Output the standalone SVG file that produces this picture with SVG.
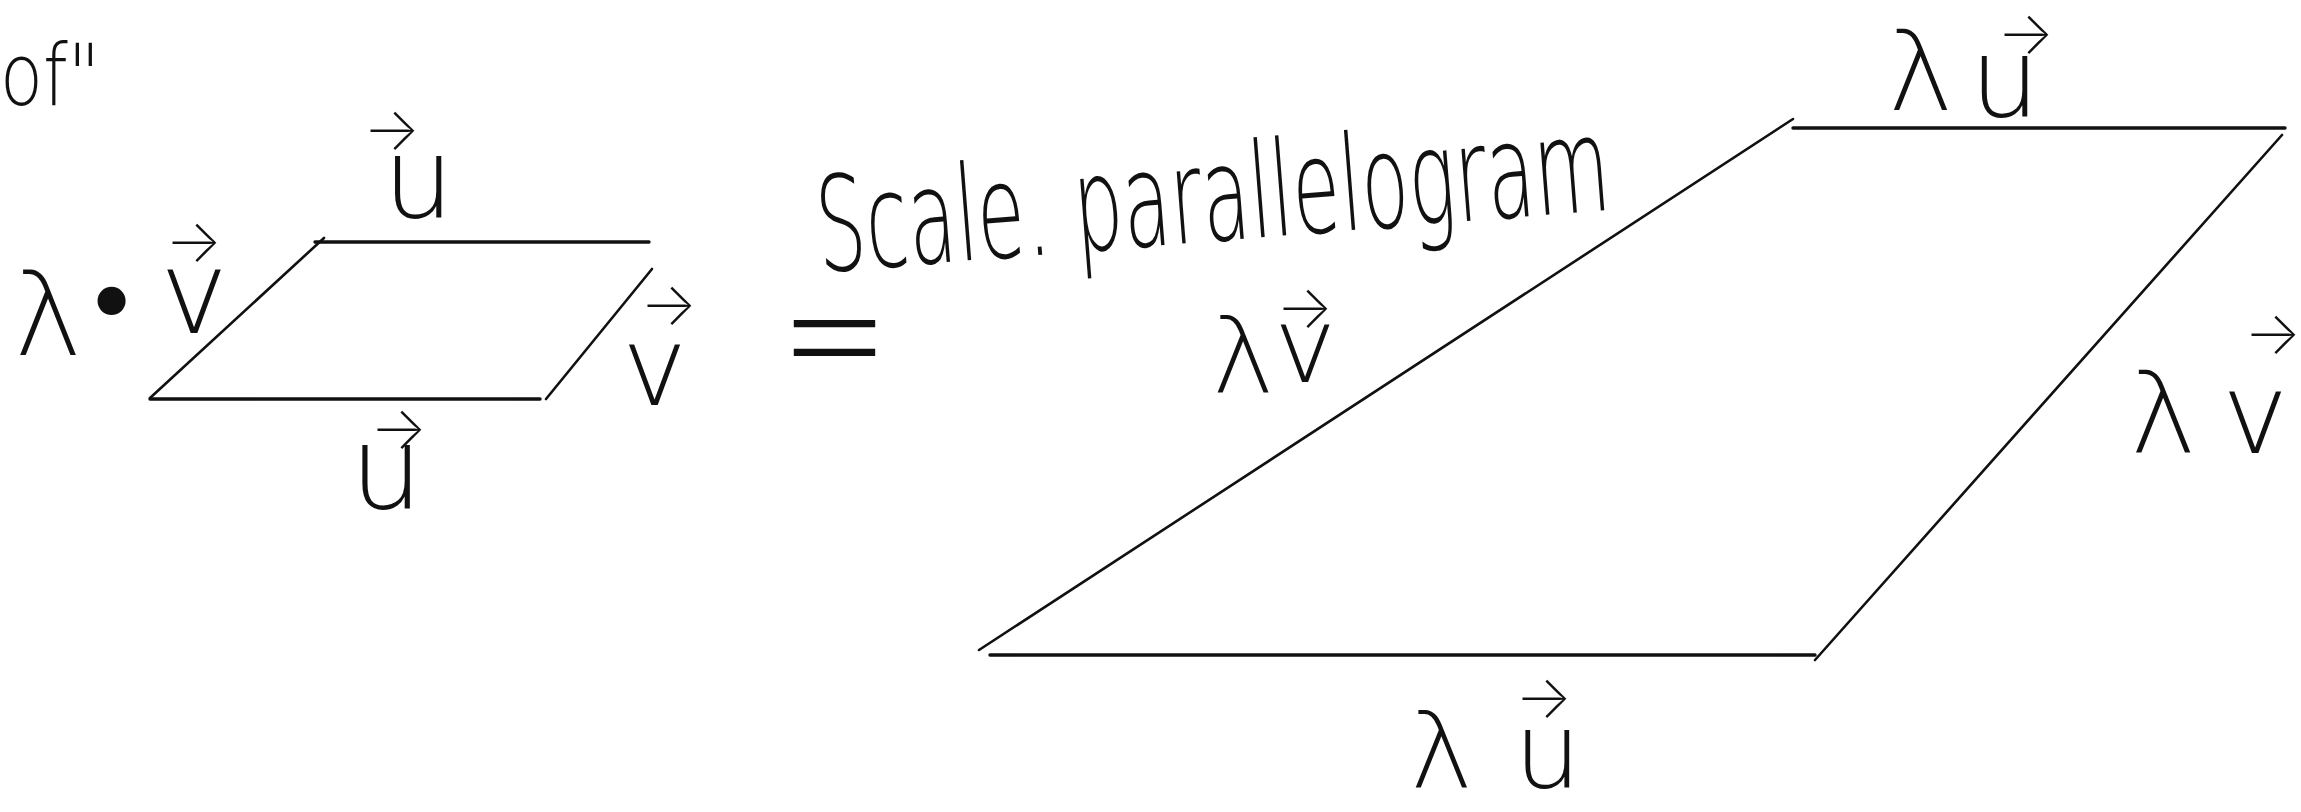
<svg xmlns="http://www.w3.org/2000/svg" width="2301" height="812" viewBox="0 0 2301 812">
<style>
.edge{stroke:#111;stroke-width:2.6;stroke-linecap:round;fill:none}
.thick{stroke-width:3.4}
.hw{font-family:"DejaVu Sans","Liberation Sans",sans-serif;font-weight:200;fill:#111}
.arr{font-family:Inter,"DejaVu Sans",sans-serif;font-weight:200;font-size:60px}
</style>
<rect width="2301" height="812" fill="#fff"/>
<g id="small-parallelogram">
<line class="edge thick" x1="315" y1="242" x2="649" y2="242"/>
<line class="edge" x1="324" y1="238" x2="150" y2="398"/>
<line class="edge thick" x1="150" y1="399" x2="540" y2="399"/>
<line class="edge" x1="652" y1="269" x2="546" y2="399"/>
</g>
<g id="big-parallelogram">
<line class="edge thick" x1="1793" y1="128" x2="2285" y2="128"/>
<line class="edge" x1="1793" y1="119" x2="979" y2="650"/>
<line class="edge" x1="2282" y1="135" x2="1815" y2="660"/>
<line class="edge thick" x1="990" y1="655" x2="1815" y2="655"/>
</g>
<g id="label-of">
<text class="hw" x="0" y="105" font-size="86" textLength="100" lengthAdjust="spacingAndGlyphs">of"</text>
</g>
<g id="label-small-top">
<text class="hw" font-size="112"><tspan x="383" y="218">u</tspan><tspan class="arr" x="363" y="150">→</tspan></text>
</g>
<g id="label-small-left">
<text class="hw" font-size="115"><tspan x="14" y="355">λ</tspan><tspan x="86" y="331" font-size="80" font-weight="bold">•</tspan><tspan x="160" y="333">v</tspan><tspan class="arr" x="165" y="262">→</tspan></text>
</g>
<g id="label-small-right">
<text class="hw" font-size="110"><tspan x="622" y="405">v</tspan><tspan class="arr" x="640" y="325">→</tspan></text>
</g>
<g id="label-small-bottom">
<text class="hw" font-size="115"><tspan x="350" y="508">u</tspan><tspan class="arr" x="370" y="449">→</tspan></text>
</g>
<g id="equals">
<text class="hw" font-size="130" font-weight="bold" transform="translate(780 395) scale(1 1.4)">=</text>
</g>
<g id="label-title">
<text class="hw" x="820" y="272" font-size="132" textLength="795" lengthAdjust="spacingAndGlyphs" transform="rotate(-4.5 820 272)">Scale. parallelogram</text>
</g>
<g id="label-big-left">
<text class="hw" font-size="105"><tspan x="1212" y="393">λ</tspan><tspan x="1274" y="382">v</tspan><tspan class="arr" x="1276" y="328">→</tspan></text>
</g>
<g id="label-big-top">
<text class="hw" font-size="110"><tspan x="1888" y="110">λ</tspan><tspan x="1970" y="117">u</tspan><tspan class="arr" x="1997" y="54">→</tspan></text>
</g>
<g id="label-big-right">
<text class="hw" font-size="112"><tspan x="2130" y="452">λ</tspan><tspan x="2222" y="453">v</tspan><tspan class="arr" font-size="50" x="2244" y="354">→</tspan></text>
</g>
<g id="label-big-bottom">
<text class="hw" font-size="106"><tspan x="1410" y="788">λ</tspan><tspan x="1514" y="788">u</tspan><tspan class="arr" x="1515" y="718">→</tspan></text>
</g>
</svg>
